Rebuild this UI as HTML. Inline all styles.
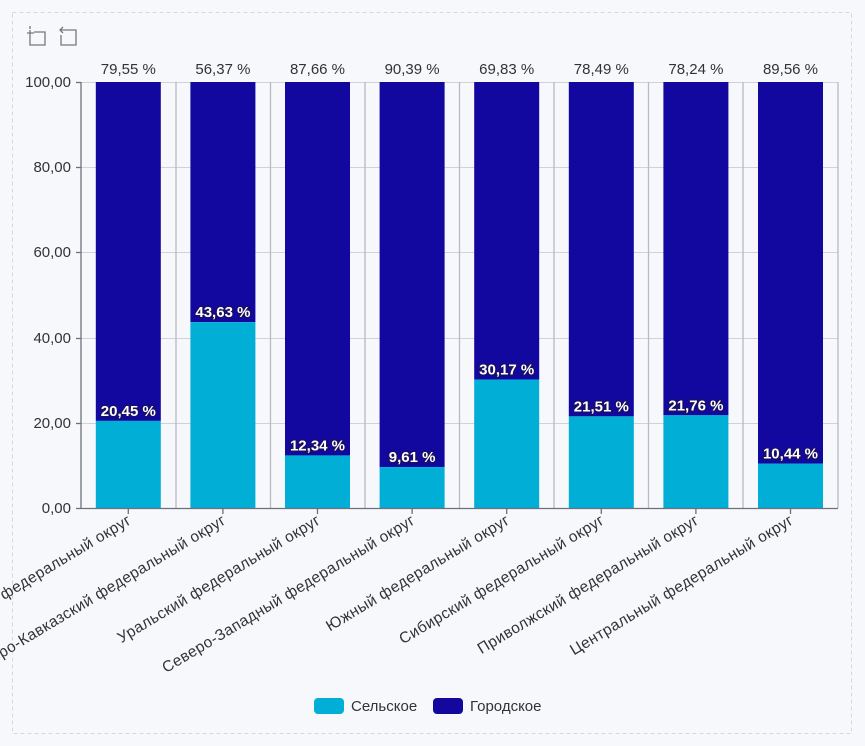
<!DOCTYPE html>
<html><head><meta charset="utf-8"><style>
body{margin:0;background:#f7f8fc;}
svg{display:block;font-family:"Liberation Sans","DejaVu Sans",sans-serif;}
</style></head><body>
<svg width="865" height="746" xmlns="http://www.w3.org/2000/svg">
<rect x="0" y="0" width="865" height="746" fill="#f7f8fc"/>
<rect x="12.5" y="12.5" width="839" height="721" fill="none" stroke="#d4d7de" stroke-dasharray="4,3"/>
<g stroke="#777" stroke-width="1.3" fill="none">
<path d="M30 30v15h15v-13h-11M27 33h7M30 29v-3"/>
<path d="M63 33l-3 -3l3 -3M60 30h16v15h-15v-10"/>
</g>
<g stroke="#d0d2d8" stroke-width="1">
<line x1="81" y1="82.5" x2="838" y2="82.5"/>
<line x1="81" y1="167.5" x2="838" y2="167.5"/>
<line x1="81" y1="252.5" x2="838" y2="252.5"/>
<line x1="81" y1="338.5" x2="838" y2="338.5"/>
<line x1="81" y1="423.5" x2="838" y2="423.5"/>
</g>
<g stroke="#b8b9c2" stroke-width="1.3">
<line x1="176" y1="82" x2="176" y2="508"/><line x1="270.5" y1="82" x2="270.5" y2="508"/>
<line x1="365" y1="82" x2="365" y2="508"/><line x1="459.5" y1="82" x2="459.5" y2="508"/>
<line x1="554" y1="82" x2="554" y2="508"/><line x1="648.5" y1="82" x2="648.5" y2="508"/>
<line x1="743" y1="82" x2="743" y2="508"/><line x1="838" y1="82" x2="838" y2="508"/>
</g>
<g id="bars"></g>
<g stroke="#6e7079" stroke-width="1.3">
<line x1="81" y1="82" x2="81" y2="509"/><line x1="81" y1="508.5" x2="838" y2="508.5"/>
<line x1="76" y1="82.5" x2="81" y2="82.5"/><line x1="76" y1="167.5" x2="81" y2="167.5"/>
<line x1="76" y1="252.5" x2="81" y2="252.5"/><line x1="76" y1="338.5" x2="81" y2="338.5"/>
<line x1="76" y1="423.5" x2="81" y2="423.5"/><line x1="76" y1="508.5" x2="81" y2="508.5"/>
</g>
<g font-size="15" fill="#333" text-anchor="end">
<text x="71" y="87">100,00</text><text x="71" y="172">80,00</text><text x="71" y="257">60,00</text>
<text x="71" y="343">40,00</text><text x="71" y="428">20,00</text><text x="71" y="513">0,00</text>
</g>
<g id="labs"></g>
<rect x="314" y="698" width="30" height="16" rx="4" fill="#00aed6"/>
<text x="351" y="711" font-size="15" fill="#333">Сельское</text>
<rect x="433" y="698" width="30" height="16" rx="4" fill="#12079e"/>
<text x="470" y="711" font-size="15" fill="#333">Городское</text>
<script>
var names=["Дальневосточный федеральный округ","Северо-Кавказский федеральный округ","Уральский федеральный округ","Северо-Западный федеральный округ","Южный федеральный округ","Сибирский федеральный округ","Приволжский федеральный округ","Центральный федеральный округ"];
var r=[20.45,43.63,12.34,9.61,30.17,21.51,21.76,10.44];
var u=["79,55","56,37","87,66","90,39","69,83","78,49","78,24","89,56"];
var ns="http://www.w3.org/2000/svg",b=document.getElementById("bars"),l=document.getElementById("labs");
function el(p,t,a,txt){var e=document.createElementNS(ns,t);for(var k in a)e.setAttribute(k,a[k]);if(txt)e.textContent=txt;p.appendChild(e);return e;}
for(var i=0;i<8;i++){var c=81+94.6*(i+0.5),x=c-32.5,yb=508-4.26*r[i];
el(b,"rect",{x:x,y:82,width:65,height:yb-82,fill:"#12079e"});
el(b,"rect",{x:x,y:yb,width:65,height:508-yb,fill:"#00aed6"});
el(l,"line",{x1:c,y1:508,x2:c,y2:514,stroke:"#6e7079","stroke-width":1.3});
el(l,"text",{x:c,y:74,"font-size":15,fill:"#333","text-anchor":"middle"},u[i]+" %");
el(l,"text",{x:c,y:yb-5,"font-size":15,"font-weight":"bold",fill:"#fff",stroke:"#1a1060","stroke-width":2.5,"paint-order":"stroke","text-anchor":"middle"},String(r[i].toFixed(2)).replace(".",",")+" %");
el(l,"text",{x:c+4,y:523,"font-size":15.5,"letter-spacing":"0.4",fill:"#333","text-anchor":"end",transform:"rotate(-31 "+(c+4)+" 523)"},names[i]);}
</script>
</svg>
</body></html>
